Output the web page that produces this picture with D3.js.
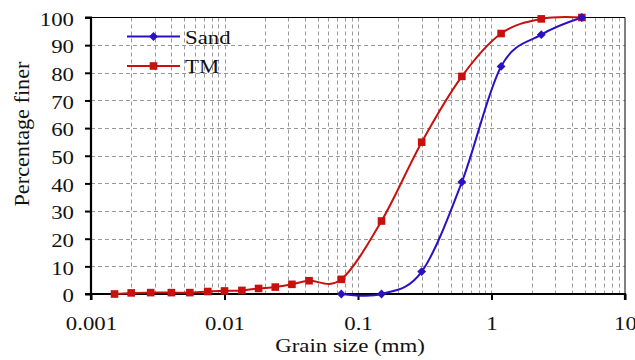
<!DOCTYPE html>
<html><head><meta charset="utf-8">
<script src="https://cdn.jsdelivr.net/npm/d3@7"></script>
<style>body{margin:0;background:#fff}svg{display:block}</style>
</head><body><svg id="c" width="635" height="360"></svg>
<script>
const sandSize = [0.075, 0.15, 0.3, 0.6, 1.18, 2.36, 4.75];
const sandFiner = [0, 0, 8.1, 40.5, 82.3, 93.8, 100];
const tmSize = [0.0015, 0.002, 0.0028, 0.004, 0.0055, 0.0075, 0.01, 0.0135, 0.018, 0.024, 0.032, 0.043, 0.075, 0.15, 0.3, 0.6, 1.18, 2.36, 4.75];
const tmFiner = [0, 0.4, 0.5, 0.5, 0.5, 0.9, 1.1, 1.3, 2.0, 2.5, 3.5, 4.8, 5.3, 26.4, 54.9, 78.7, 94.2, 99.5, 100];
const xTicks = [0.001, 0.01, 0.1, 1, 10];
const yTicks = [0, 10, 20, 30, 40, 50, 60, 70, 80, 90, 100];

const FONT = '"Liberation Serif"';
const STRETCH = 1.17;
const svg = d3.select("#c");
const L = 91, R = 625, T = 17.5, B = 294;
const x = d3.scaleLog().domain([0.001, 10]).range([L, R]);
const y = d3.scaleLinear().domain([0, 100]).range([B, T]);

// grid
const minor = [];
for (let e = -3; e < 1; e++) for (let k = 2; k <= 9; k++) minor.push(k * Math.pow(10, e));
const g = svg.append("g").attr("stroke", "#999").attr("stroke-width", 1).attr("stroke-dasharray", "4,3");
g.selectAll(".vx").data(minor.concat([0.01, 0.1, 1])).join("line")
  .attr("x1", d => Math.round(x(d)) + 0.5).attr("x2", d => Math.round(x(d)) + 0.5)
  .attr("y1", T).attr("y2", B);
g.selectAll(".hy").data(yTicks.filter(d => d > 0 && d < 100)).join("line")
  .attr("x1", L).attr("x2", R)
  .attr("y1", d => Math.round(y(d)) + 0.5).attr("y2", d => Math.round(y(d)) + 0.5);

// frame top/right
svg.append("path").attr("d", `M${L},${T}H${R}V${B}`).attr("fill", "none").attr("stroke", "#000").attr("stroke-width", 1);

// axes
const xa = svg.append("g").attr("transform", `translate(0,${B})`)
  .call(d3.axisBottom(x).tickValues(xTicks).tickFormat(d => String(d)).tickSize(6).tickPadding(16));
const ya = svg.append("g").attr("transform", `translate(${L},0)`)
  .call(d3.axisLeft(y).tickValues(yTicks).tickSize(6).tickPadding(11));
[xa, ya].forEach(a => {
  a.select(".domain").attr("stroke", "#000").attr("stroke-width", 2.2);
  a.selectAll(".tick line").attr("stroke", "#000").attr("stroke-width", 2);
  a.selectAll(".tick text").style("font-family", FONT).style("font-size", "19.5px").attr("fill", "#111");
});
ya.select(".domain").attr("d", `M-6,${B}H0V${T}H-6`);
xa.select(".domain").attr("d", `M${L},6V0H${R}V6`);
ya.selectAll(".tick text").attr("dy", "0.4em");

// curves
const line = d3.line().x(d => x(d[0])).y(d => y(d[1])).curve(d3.curveCatmullRom.alpha(0));
const sand = sandSize.map((s, i) => [s, sandFiner[i]]);
const tm = tmSize.map((s, i) => [s, tmFiner[i]]);
const blue = "#2a12c4", red = "#c8100e";
svg.append("path").datum(tm).attr("d", line).attr("fill", "none").attr("stroke", red).attr("stroke-width", 2);
svg.append("path").datum(sand).attr("d", line).attr("fill", "none").attr("stroke", blue).attr("stroke-width", 2);

svg.selectAll(".sq").data(tm).join("rect")
  .attr("x", d => x(d[0]) - 3.8).attr("y", d => y(d[1]) - 3.8).attr("width", 7.6).attr("height", 7.6).attr("fill", red);
const dia = d3.symbol().type(d3.symbolDiamond2).size(50);
svg.selectAll(".dm").data(sand).join("path")
  .attr("transform", d => `translate(${x(d[0])},${y(d[1])})`).attr("d", dia).attr("fill", blue);

// legend
const lg = svg.append("g");
lg.append("line").attr("x1", 127).attr("x2", 180).attr("y1", 36.5).attr("y2", 36.5).attr("stroke", blue).attr("stroke-width", 2);
lg.append("path").attr("transform", "translate(153.5,36.5)").attr("d", dia).attr("fill", blue);
lg.append("text").attr("x", 185).attr("y", 43.5).text("Sand");
lg.append("line").attr("x1", 127).attr("x2", 180).attr("y1", 66).attr("y2", 66).attr("stroke", red).attr("stroke-width", 2);
lg.append("rect").attr("x", 149.7).attr("y", 62.2).attr("width", 7.6).attr("height", 7.6).attr("fill", red);
lg.append("text").attr("x", 185).attr("y", 73).text("TM");
lg.selectAll("text").style("font-family", FONT).style("font-size", "19.5px").attr("fill", "#111");

// axis titles
svg.append("text").attr("x", 350).attr("y", 352).attr("text-anchor", "middle")
  .style("font-family", FONT).style("font-size", "19.5px").attr("fill", "#111").text("Grain size (mm)");
const yt = svg.append("text").attr("transform", "translate(28.5,134) rotate(-90)").attr("text-anchor", "middle")
  .style("font-family", FONT).style("font-size", "20px").attr("fill", "#111").attr("class", "rot").text("Percentage finer");

// horizontal stretch of the texts, as in the reference image
svg.selectAll("text").filter(function () { return !this.classList.contains("rot"); }).each(function () {
  const w = this.getComputedTextLength();
  d3.select(this).attr("textLength", w * STRETCH).attr("lengthAdjust", "spacingAndGlyphs");
});
yt.attr("textLength", 145).attr("lengthAdjust", "spacingAndGlyphs");
</script></body></html>
